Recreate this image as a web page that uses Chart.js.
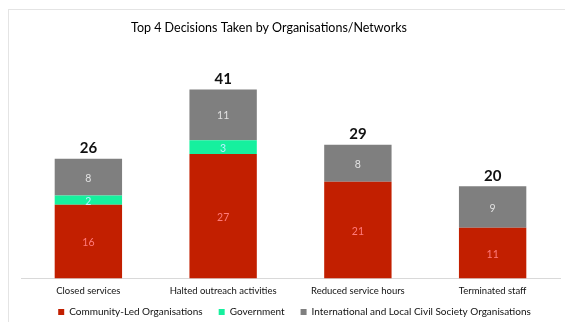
<!DOCTYPE html>
<html>
<head>
<meta charset="utf-8">
<script src="https://cdn.jsdelivr.net/npm/chart.js@4/dist/chart.umd.min.js"></script>
<style>
  html, body { margin: 0; padding: 0; background: #fff; }
  #wrap { position: relative; width: 565px; height: 322px; overflow: hidden; }
  #frame { position: absolute; left: 8px; top: 9px; width: 600px; height: 400px; border: 1px solid #e4e4e4; }
  canvas { position: absolute; left: 0; top: 0; }
</style>
</head>
<body>
<div id="wrap">
  <div id="frame"></div>
  <canvas id="chart" width="565" height="322"></canvas>
</div>
<script>
// ========= Data =========
const categories = ["Closed services", "Halted outreach activities", "Reduced service hours", "Terminated staff"];
const communityLed = [16, 27, 21, 11];
const government = [2, 3, 0, 0];
const civilSociety = [8, 11, 8, 9];

const FONT = "Lato, 'Open Sans', sans-serif";

// segment values inside each bar, totals above each stack
const barLabels = {
  id: "barLabels",
  afterDatasetsDraw(chart) {
    const ctx = chart.ctx;
    ctx.save();
    ctx.textAlign = "center";
    ctx.textBaseline = "middle";
    ctx.font = "10.5px " + FONT;
    chart.data.datasets.forEach((ds, i) => {
      const meta = chart.getDatasetMeta(i);
      meta.data.forEach((bar, j) => {
        const v = ds.data[j];
        if (!v) return;
        ctx.fillStyle = ds.labelColor;
        ctx.fillText(String(v), bar.x, (bar.y + bar.base) / 2 + 1);
      });
    });
    ctx.font = "bold 15px " + FONT;
    ctx.fillStyle = "#111";
    ctx.textBaseline = "bottom";
    categories.forEach((c, j) => {
      const total = chart.data.datasets.reduce((s, ds) => s + ds.data[j], 0);
      const x = chart.scales.x.getPixelForValue(j);
      const y = chart.scales.y.getPixelForValue(total);
      ctx.fillText(String(total), x, y - 3);
    });
    ctx.restore();
  }
};

// legend takes little room in the layout but keeps wide gaps between items;
// title sits a bit left of the plot centre
const tweakLayout = {
  id: "tweakLayout",
  beforeInit(chart) {
    const fit = chart.legend.fit;
    chart.legend.fit = function () {
      fit.call(this);
      this.height = 18;
    };
  },
  afterLayout(chart) {
    chart.legend.top = 291;
    chart.legend.left += 4;
    chart.legend.right += 4;
    chart.titleBlock.left = 0;
    chart.titleBlock.right = 538;
  }
};

const ctx = document.getElementById("chart").getContext("2d");
new Chart(ctx, {
  type: "bar",
  data: {
    labels: categories,
    datasets: [
      { label: "Community-Led Organisations", data: communityLed, backgroundColor: "#c21f00", labelColor: "#ff7b7b" },
      { label: "Government", data: government, backgroundColor: "#16f09e", labelColor: "#bdefff" },
      { label: "International and Local Civil Society Organisations", data: civilSociety, backgroundColor: "#7f7f7f", labelColor: "#e2e2e2" }
    ]
  },
  options: {
    responsive: false,
    animation: false,
    layout: { padding: { left: 21, right: 5, top: 0, bottom: 0 } },
    datasets: { bar: { barPercentage: 0.5, categoryPercentage: 1.0 } },
    scales: {
      x: {
        stacked: true,
        grid: { display: false, drawTicks: false },
        border: { display: true, color: "#d9d9d9" },
        ticks: { color: "#111", font: { family: FONT, size: 9.5 }, padding: 7 }
      },
      y: {
        stacked: true,
        display: false,
        min: 0,
        max: 50
      }
    },
    plugins: {
      title: {
        display: true,
        text: "Top 4 Decisions Taken by Organisations/Networks",
        color: "#000",
        font: { family: FONT, size: 12.5, weight: "normal" },
        padding: { top: 20, bottom: 13 }
      },
      legend: {
        position: "bottom",
        labels: {
          color: "#111",
          font: { family: FONT, size: 10 },
          boxWidth: 6,
          boxHeight: 6,
          padding: 16
        }
      },
      tooltip: { enabled: false }
    }
  },
  plugins: [barLabels, tweakLayout]
});
</script>
</body>
</html>
